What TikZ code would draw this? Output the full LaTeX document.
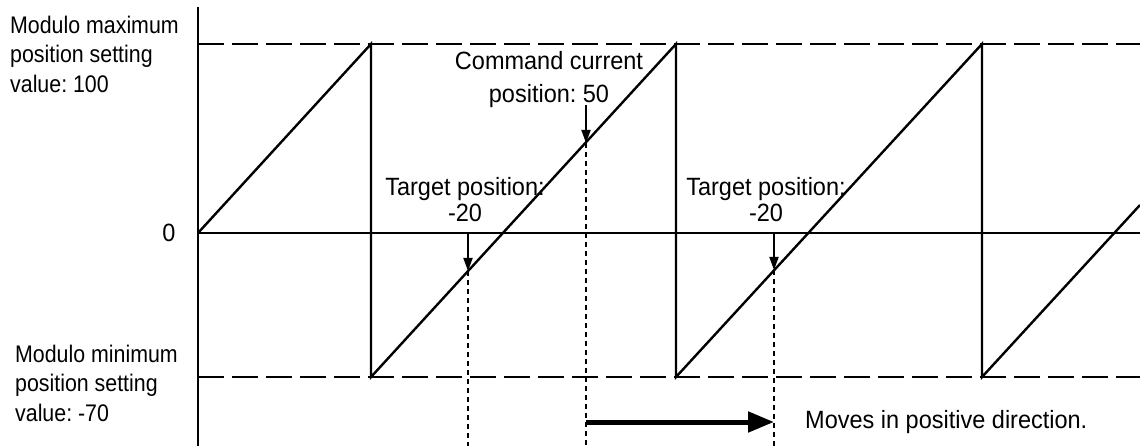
\documentclass[tikz,border=0pt]{standalone}
\usepackage{fontspec}
\setmainfont{Liberation Sans}
\newfontfamily\midfont[FakeStretch=0.94]{Liberation Sans}
\newfontfamily\sidefont[FakeStretch=0.89]{Liberation Sans}
\usetikzlibrary{arrows.meta}
\begin{document}
\frenchspacing
\begin{tikzpicture}[x=1pt,y=-1pt,
  axis/.style={line width=2.2pt},
  zero/.style={line width=1.8pt},
  saw/.style={line width=2.4pt, line join=miter},
  limit/.style={line width=2.4pt, dash pattern=on 26pt off 8pt},
  guide/.style={line width=1.4pt, dash pattern=on 5pt off 4pt},
  pointer/.style={line width=1.8pt, -{Triangle[length=13pt,width=9pt]}},
  move/.style={line width=5pt, -{Triangle[length=26pt,width=20pt]}},
  lbl/.style={inner sep=0pt, font=\midfont\fontsize{25}{33}\selectfont},
  side/.style={inner sep=0pt, align=left, anchor=north west, font=\sidefont\fontsize{24}{29.5}\selectfont}]
\useasboundingbox (0,0) rectangle (1140,446);
% axes and limits
\coordinate (axT) at (198,7);
\coordinate (axB) at (198,446);
\coordinate (z0) at (198,233);
\coordinate (zE) at (1140,233);
\coordinate (maxS) at (198,44);
\coordinate (maxE) at (1140,44);
\coordinate (minS) at (198,377);
\coordinate (minE) at (1140,377);
\draw[axis] (axT) -- (axB);
\draw[zero] (z0) -- (zE);
\draw[limit] (maxS) -- (maxE);
\draw[limit] (minS) -- (minE);
% sawtooth
\coordinate (s0) at (198,233);
\coordinate (p1) at (371,44);
\coordinate (b1) at (371,377);
\coordinate (p2) at (676,44);
\coordinate (b2) at (676,377);
\coordinate (p3) at (982,44);
\coordinate (b3) at (982,377);
\coordinate (sE) at (1140,205);
\draw[saw] (s0) -- (p1) -- (b1) -- (p2) -- (b2) -- (p3) -- (b3) -- (sE);
% pointers
\coordinate (cT) at (586,105);
\coordinate (cH) at (586,143);
\coordinate (cB) at (586,446);
\coordinate (t1T) at (468,233);
\coordinate (t1H) at (468,271);
\coordinate (t1B) at (468,446);
\coordinate (t2T) at (774,233);
\coordinate (t2H) at (774,270);
\coordinate (t2B) at (774,446);
\draw[pointer] (cT) -- (cH);
\draw[pointer] (t1T) -- (t1H);
\draw[pointer] (t2T) -- (t2H);
\draw[guide] (cH) -- (cB);
\draw[guide] (t1H) -- (t1B);
\draw[guide] (t2H) -- (t2B);
\coordinate (mS) at (586,422);
\coordinate (mE) at (774,422);
\draw[move] (mS) -- (mE);
% labels
\node[side] (maxlbl) at (10,15.5) {Modulo maximum\\position setting\\value: 100};
\node[side] (minlbl) at (15,344.5) {Modulo minimum\\position setting\\value: -70};
\node[lbl, anchor=base] (zlbl) at (169,242) {0};
\node[lbl, align=center, anchor=north] (cmd) at (549,51) {Command current\\position: 50};
\node[lbl, align=center, anchor=north, font=\midfont\fontsize{25}{26}\selectfont] (tg1) at (465,177) {Target position:\\-20};
\node[lbl, align=center, anchor=north, font=\midfont\fontsize{25}{26}\selectfont] (tg2) at (766,177) {Target position:\\-20};
\node[lbl, anchor=base west] (mv) at (805,428) {Moves in positive direction.};
\end{tikzpicture}
\end{document}
